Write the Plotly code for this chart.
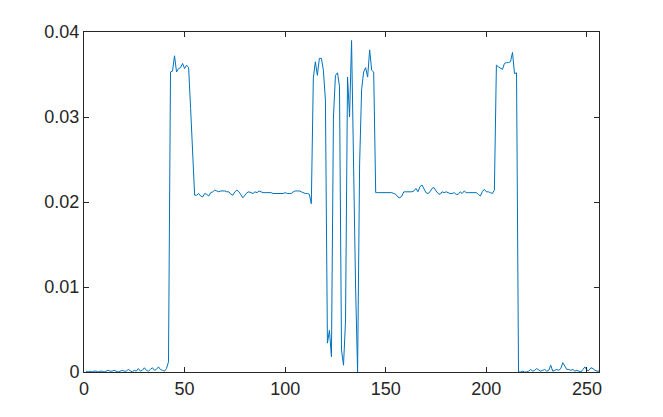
import plotly.graph_objects as go

# x positions (sample index)
x_values = list(range(1, 257))

# segment values
low_start = [0.0001, 0.0000, 0.0001, 0.0000, 0.0001, 0.0001, 0.0000, 0.0001, 0.0001, 0.0000,
             0.0001, 0.0002, 0.0001, 0.0001, 0.0002, 0.0001, 0.0000, 0.0001, 0.0002, 0.0001,
             0.0001, 0.0003, 0.0001, 0.0000, 0.0002, 0.0001, 0.0004, 0.0001, 0.0002, 0.0005,
             0.0002, 0.0001, 0.0003, 0.0005, 0.0002, 0.0003, 0.0006, 0.0003, 0.0002, 0.0001,
             0.0004, 0.0012]
high_first = [0.0353, 0.0354, 0.0372, 0.0353, 0.0357, 0.0358, 0.0363, 0.0357, 0.0361, 0.0358,
              0.0310, 0.0250]
flat_first = [0.0208, 0.0208, 0.0210, 0.0207, 0.0206, 0.0210, 0.0209, 0.0207, 0.0211, 0.0212,
              0.0214, 0.0213, 0.0212, 0.0213, 0.0213, 0.0213, 0.0212, 0.0212, 0.0209, 0.0208,
              0.0212, 0.0214, 0.0212, 0.0208, 0.0205, 0.0208, 0.0211, 0.0212, 0.0211, 0.0210,
              0.0212, 0.0211, 0.0213, 0.0212, 0.0211, 0.0211, 0.0211, 0.0211, 0.0211, 0.0210,
              0.0210, 0.0210, 0.0210, 0.0210, 0.0210, 0.0211, 0.0210, 0.0210, 0.0210, 0.0212,
              0.0213, 0.0213, 0.0213, 0.0212, 0.0211, 0.0210, 0.0210, 0.0209, 0.0198]
middle_block = [0.0346, 0.0365, 0.0349, 0.0369, 0.0369, 0.0355, 0.0320, 0.0034, 0.0049, 0.0018,
                0.0300, 0.0349, 0.0352, 0.0336, 0.0026, 0.0008, 0.0060, 0.0347, 0.0300, 0.0390,
                0.0240, 0.0100, 0.0000, 0.0245, 0.0332, 0.0353, 0.0358, 0.0347, 0.0379, 0.0355,
                0.0353]
flat_second = [0.0211, 0.0211, 0.0211, 0.0211, 0.0211, 0.0211, 0.0211, 0.0211, 0.0211, 0.0210,
               0.0209, 0.0206, 0.0205, 0.0207, 0.0212, 0.0212, 0.0212, 0.0212, 0.0212, 0.0213,
               0.0216, 0.0212, 0.0218, 0.0220, 0.0216, 0.0211, 0.0210, 0.0212, 0.0216, 0.0217,
               0.0213, 0.0210, 0.0209, 0.0212, 0.0211, 0.0212, 0.0211, 0.0210, 0.0210, 0.0211,
               0.0209, 0.0209, 0.0212, 0.0210, 0.0213, 0.0211, 0.0211, 0.0211, 0.0211, 0.0211,
               0.0211, 0.0209, 0.0207, 0.0212, 0.0215, 0.0212, 0.0212, 0.0211, 0.0210, 0.0214]
high_last = [0.0361, 0.0359, 0.0357, 0.0356, 0.0363, 0.0364, 0.0364, 0.0365, 0.0376, 0.0351,
             0.0352]
low_end = [0.0000, 0.0000, 0.0001, 0.0000, 0.0000, 0.0001, 0.0003, 0.0001, 0.0002, 0.0004,
           0.0002, 0.0001, 0.0002, 0.0003, 0.0001, 0.0002, 0.0008, 0.0001, 0.0002, 0.0003,
           0.0002, 0.0004, 0.0011, 0.0006, 0.0003, 0.0003, 0.0002, 0.0003, 0.0001, 0.0002,
           0.0001, 0.0000, 0.0003, 0.0006, 0.0002, 0.0002, 0.0005, 0.0004, 0.0002, 0.0001,
           0.0001]

y_values = low_start + high_first + flat_first + middle_block + flat_second + high_last + low_end

x_tick_vals = [0, 50, 100, 150, 200, 250]
x_tick_text = ["0", "50", "100", "150", "200", "250"]
y_tick_vals = [0, 0.01, 0.02, 0.03, 0.04]
y_tick_text = ["0", "0.01", "0.02", "0.03", "0.04"]

fig = go.Figure()
fig.add_trace(go.Scatter(
    x=x_values[:len(y_values)], y=y_values, mode="lines",
    line=dict(color="#0072BD", width=1),
    hoverinfo="skip", showlegend=False,
))

axis_common = dict(
    showgrid=False, zeroline=False, showline=True, linecolor="#262626", linewidth=1,
    mirror="ticks", ticks="inside", ticklen=5, tickwidth=1, tickcolor="#262626",
    tickfont=dict(family="Liberation Sans, Arial, sans-serif", size=18, color="#262626"),
)

# page body has an 8px default margin; margins compensate so the axes box
# lands at x 84..599, y 32..372 in the window
fig.update_layout(
    width=663, height=417,
    margin=dict(l=76, r=72, t=24, b=53),
    paper_bgcolor="white", plot_bgcolor="white",
    xaxis=dict(range=[0, 256], tickvals=x_tick_vals, ticktext=x_tick_text, **axis_common),
    yaxis=dict(range=[0, 0.04], tickvals=y_tick_vals, ticktext=y_tick_text, **axis_common),
)

fig.write_html("out.html")
